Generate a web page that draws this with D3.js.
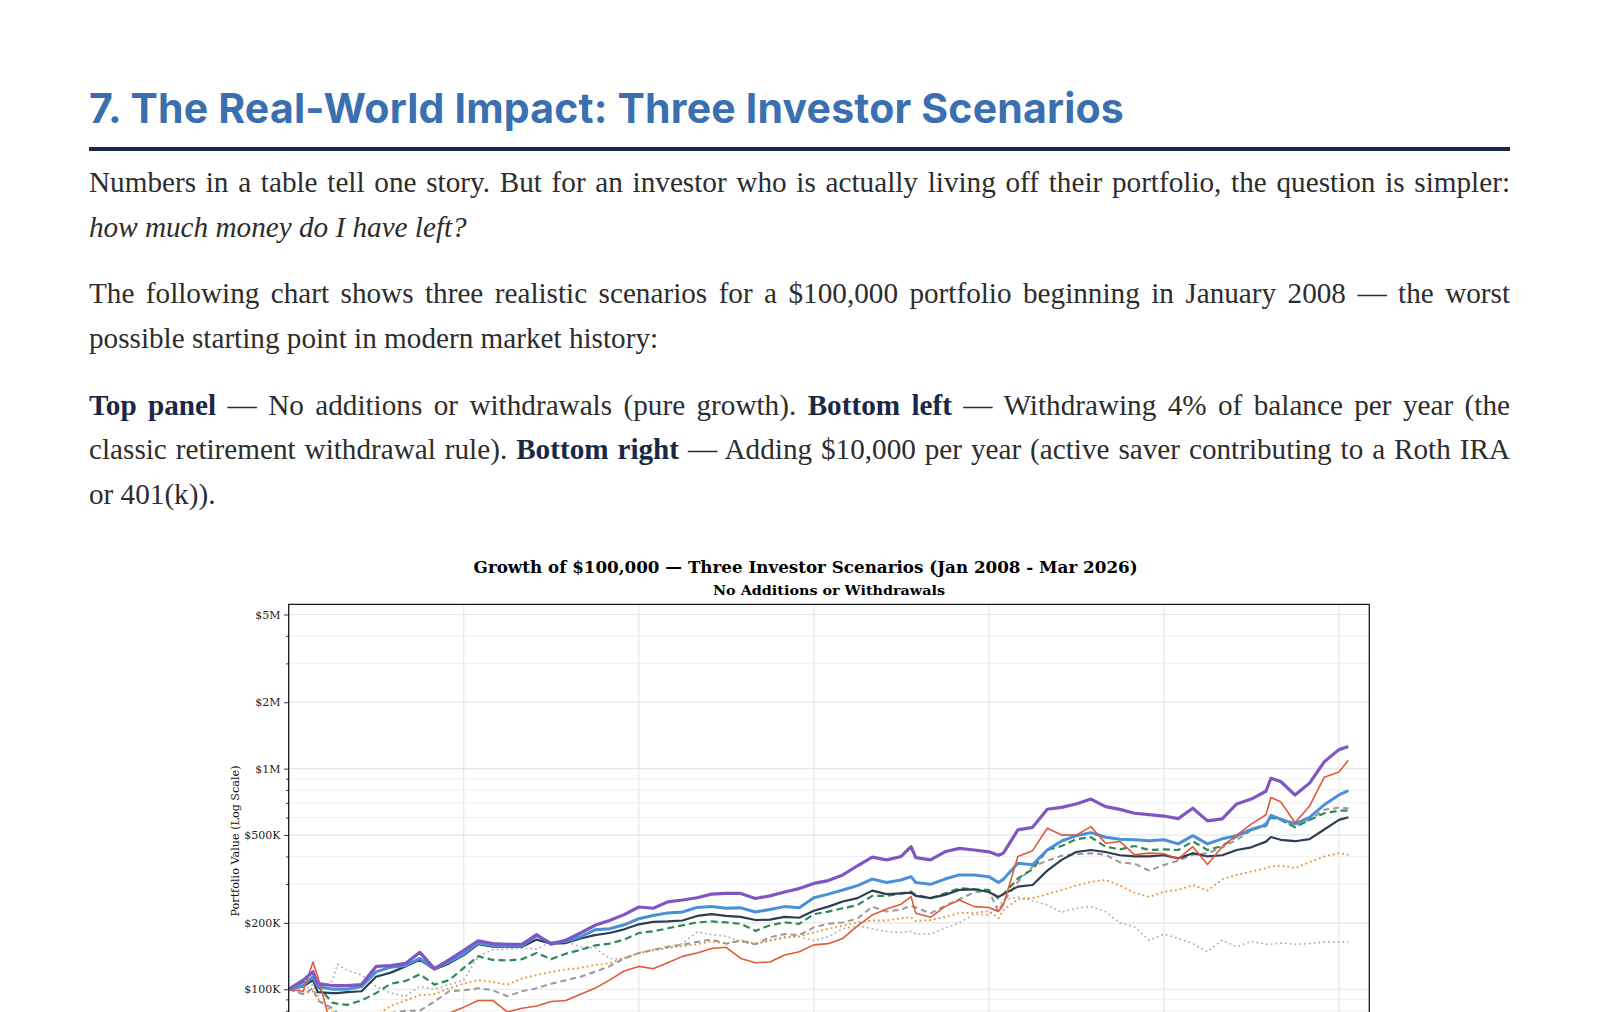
<!DOCTYPE html>
<html>
<head>
<meta charset="utf-8">
<script src="https://cdn.jsdelivr.net/npm/d3@7"></script>
<style>
  html, body { margin: 0; padding: 0; background: #fff; overflow: hidden; }
  body { width: 1598px; height: 1012px; position: relative; }
  #chart { position: absolute; left: 0; top: 0; }
  #heading { position: absolute; left: 89px; top: 0; font-family: Inter, sans-serif; font-weight: 700;
             font-size: 41px; line-height: 1; color: #3a6fb0; white-space: nowrap; }
  #rule { position: absolute; left: 89px; top: 147px; width: 1421px; height: 4px; background: #1b2845; }
  .line { position: absolute; left: 89px; top: 0; width: 1421px; white-space: nowrap;
          font-family: "Liberation Serif", "Times New Roman", serif; font-size: 29.2px;
          line-height: 44.8px; color: #2d2d2d; }
  .line b { color: #1b2845; }
  .bm { display: inline-block; width: 0; height: 0; vertical-align: baseline; }
</style>
</head>
<body>
<svg id="chart" width="1598" height="1012"></svg>

<div id="heading"><span class="txt">7. The Real-World Impact: Three Investor Scenarios</span><span class="bm"></span></div>
<div id="rule"></div>

<div class="line" data-j="1"><span class="txt">Numbers in a table tell one story. But for an investor who is actually living off their portfolio, the question is simpler:</span><span class="bm"></span></div>
<div class="line"><span class="txt"><em>how much money do I have left?</em></span><span class="bm"></span></div>
<div class="line" data-j="1"><span class="txt">The following chart shows three realistic scenarios for a $100,000 portfolio beginning in January 2008 — the worst</span><span class="bm"></span></div>
<div class="line"><span class="txt">possible starting point in modern market history:</span><span class="bm"></span></div>
<div class="line" data-j="1"><span class="txt"><b>Top panel</b> — No additions or withdrawals (pure growth). <b>Bottom left</b> — Withdrawing 4% of balance per year (the</span><span class="bm"></span></div>
<div class="line" data-j="1"><span class="txt">classic retirement withdrawal rule). <b>Bottom right</b> — Adding $10,000 per year (active saver contributing to a Roth IRA</span><span class="bm"></span></div>
<div class="line"><span class="txt">or 401(k)).</span><span class="bm"></span></div>

<script>
// month of each reading
const dates = [
  "2008-01","2008-04","2008-06","2008-07","2008-10","2008-11",
  "2009-01","2009-04","2009-07","2009-10",
  "2010-01","2010-04","2010-07","2010-10",
  "2011-01","2011-04","2011-07","2011-10",
  "2012-01","2012-04","2012-07","2012-10",
  "2013-01","2013-04","2013-07","2013-10",
  "2014-01","2014-04","2014-07","2014-10",
  "2015-01","2015-04","2015-07","2015-10",
  "2016-01","2016-04","2016-07","2016-10",
  "2017-01","2017-04","2017-07","2017-10",
  "2018-01","2018-04","2018-07","2018-09","2018-10",
  "2019-01","2019-04","2019-07","2019-10",
  "2020-01","2020-03","2020-04","2020-07","2020-10",
  "2021-01","2021-04","2021-07","2021-10",
  "2022-01","2022-04","2022-07","2022-10",
  "2023-01","2023-04","2023-07","2023-10",
  "2024-01","2024-04","2024-07","2024-10","2024-11",
  "2025-01","2025-04","2025-07","2025-10",
  "2026-01","2026-03"
];

// portfolio values in $K, one per date
const purple = [
  100,110,120,106,104,104,
  104,105,127,128,
  131,147,124,136,
  150,166,161,160,
  160,177,160,167,
  180,195,205,218,
  236,233,249,254,
  260,270,272,272,
  258,265,276,286,
  302,311,330,363,
  397,386,400,443,395,
  386,420,435,428,
  420,405,414,528,542,
  655,668,692,728,
  673,654,628,619,
  610,594,662,580,
  592,692,728,790,905,
  875,760,860,1075,
  1220,1260
];
const blue = [
  100,104,114,103,100,100,
  100,103,120,126,
  128,138,124,133,
  145,162,158,158,
  158,175,162,165,
  173,186,188,196,
  209,216,222,224,
  235,237,233,234,
  224,230,237,234,
  260,270,282,295,
  316,305,313,324,305,
  299,316,330,330,
  324,305,315,373,367,
  428,470,497,513,
  489,479,476,471,
  476,456,497,456,
  481,497,530,556,614,
  590,562,601,686,
  760,796
];
const navy = [
  100,103,110,97,96,96,
  97,98,114,119,
  127,136,123,131,
  143,160,156,156,
  156,168,161,162,
  170,176,180,187,
  197,202,203,205,
  215,219,215,213,
  206,207,213,211,
  227,237,250,259,
  280,270,272,274,265,
  259,268,282,284,
  276,262,270,292,297,
  345,386,419,428,
  419,405,400,400,
  405,392,414,400,
  405,428,440,467,490,
  476,469,479,530,
  586,602
];
const green = [
  100,108,110,103,87,86,
  85,89,96,106,
  109,117,105,110,
  125,141,136,135,
  137,146,137,145,
  151,158,161,168,
  180,183,189,195,
  201,203,201,198,
  184,195,201,198,
  219,225,233,241,
  265,265,272,277,268,
  259,272,287,284,
  282,258,270,318,350,
  428,446,479,489,
  443,431,446,428,
  431,428,468,428,
  446,493,528,550,600,
  586,542,586,628,
  645,645
];
const grayDashed = [
  100,95,101,89,82,78,
  72,71,74,78,
  80,80,88,98,
  99,101,99,93,
  98,101,106,110,
  114,120,127,138,
  146,151,156,159,
  164,168,161,166,
  160,172,178,176,
  191,198,201,209,
  237,225,230,239,235,
  221,239,256,275,
  280,225,249,307,360,
  383,403,410,414,
  407,376,371,345,
  366,383,407,414,
  440,476,524,566,607,
  586,546,586,651,
  666,661
];
const red = [
  100,98,133,114,65,58,
  55,50,55,58,
  62,66,62,78,
  83,89,89,79,
  82,84,88,89,
  95,101,110,121,
  127,124,132,141,
  146,153,155,138,
  132,133,143,148,
  159,161,170,194,
  217,231,243,263,221,
  212,237,254,237,
  235,225,241,400,425,
  537,500,500,546,
  459,468,407,414,
  411,390,443,368,
  443,500,561,618,740,
  708,569,677,915,
  965,1093
];
const orange = [
  100,96,98,91,79,76,
  72,71,76,84,
  89,94,95,101,
  106,110,108,105,
  112,116,120,123,
  125,129,131,139,
  146,150,154,157,
  160,165,161,167,
  161,166,171,174,
  181,188,194,201,
  205,205,210,212,204,
  206,213,222,222,
  226,210,229,256,259,
  270,282,295,307,
  313,295,274,262,
  277,282,297,280,
  315,330,342,354,360,
  364,354,377,400,
  414,407
];
const lightGray = [
  100,99,105,93,110,130,
  122,116,103,96,
  93,103,100,105,
  110,141,151,152,
  154,152,164,164,
  156,154,138,137,
  146,151,154,161,
  182,177,174,164,
  160,167,173,173,
  166,173,188,194,
  188,183,181,183,178,
  178,189,200,219,
  217,240,254,262,252,
  241,223,233,237,
  225,200,192,167,
  178,170,161,148,
  167,156,165,160,160,
  162,160,161,164,
  164,164
];

const majorTicks = [1e5, 2e5, 5e5, 1e6, 2e6, 5e6];
const majorLabels = ["$100K", "$200K", "$500K", "$1M", "$2M", "$5M"];
const minorTicks = [6e4, 7e4, 8e4, 9e4, 3e5, 4e5, 6e5, 7e5, 8e5, 9e5, 3e6, 4e6];
const gridYears = [2008, 2011, 2014, 2017, 2020, 2023, 2026];

const parse = d3.timeParse("%Y-%m");
const svg = d3.select("#chart");

const plotL = 288.7, plotR = 1369.3, plotT = 604.3, plotB = 1055.7;

const x = d3.scaleTime()
  .domain([new Date(2008, 0, 1), new Date(2026, 6, 10)])
  .range([plotL, plotR]);
const y = d3.scaleLog()
  .domain([50000, 5.56e6])
  .range([plotB, plotT]);

svg.append("defs").append("clipPath").attr("id", "plotClip")
  .append("rect").attr("x", plotL).attr("y", plotT)
  .attr("width", plotR - plotL).attr("height", plotB - plotT);

// titles
svg.append("text")
  .attr("x", 805.6).attr("y", 573.3)
  .attr("text-anchor", "middle")
  .attr("textLength", 664).attr("lengthAdjust", "spacingAndGlyphs")
  .style("font", "bold 17.5px 'DejaVu Serif', serif")
  .attr("fill", "#000")
  .text("Growth of $100,000 — Three Investor Scenarios (Jan 2008 - Mar 2026)");

svg.append("text")
  .attr("x", 829).attr("y", 595)
  .attr("text-anchor", "middle")
  .attr("textLength", 232).attr("lengthAdjust", "spacingAndGlyphs")
  .style("font", "bold 13.5px 'DejaVu Serif', serif")
  .attr("fill", "#000")
  .text("No Additions or Withdrawals");

// grid
const grid = svg.append("g");
grid.selectAll("line.minor").data(minorTicks).join("line")
  .attr("class", "minor")
  .attr("x1", plotL).attr("x2", plotR)
  .attr("y1", (d) => y(d)).attr("y2", (d) => y(d))
  .attr("stroke", "#f0f0f0").attr("stroke-width", 1);
grid.selectAll("line.major").data(majorTicks).join("line")
  .attr("class", "major")
  .attr("x1", plotL).attr("x2", plotR)
  .attr("y1", (d) => y(d)).attr("y2", (d) => y(d))
  .attr("stroke", "#e6e6e6").attr("stroke-width", 1.1);
grid.selectAll("line.vert").data(gridYears).join("line")
  .attr("class", "vert")
  .attr("x1", (d) => x(new Date(d, 0, 1))).attr("x2", (d) => x(new Date(d, 0, 1)))
  .attr("y1", plotT).attr("y2", plotB)
  .attr("stroke", "#e6e6e6").attr("stroke-width", 1.1);

// series
const series = [
  { values: lightGray, color: "#adadad", width: 1.6, dash: "1.8,3" },
  { values: orange, color: "#e8912d", width: 1.8, dash: "1.8,3" },
  { values: grayDashed, color: "#999999", width: 2, dash: "6,4" },
  { values: green, color: "#2e8b57", width: 2.2, dash: "7,4" },
  { values: navy, color: "#2c3e50", width: 2.2, dash: null },
  { values: blue, color: "#4a90d9", width: 3, dash: null },
  { values: red, color: "#e05a3a", width: 1.6, dash: null },
  { values: purple, color: "#7e57c2", width: 3.2, dash: null },
];

const line = d3.line()
  .x((d) => x(d.date))
  .y((d) => y(d.value * 1000));

const lines = svg.append("g").attr("clip-path", "url(#plotClip)");
series.forEach((s) => {
  const pts = dates.map((dt, i) => ({ date: parse(dt), value: s.values[i] }));
  lines.append("path")
    .datum(pts)
    .attr("fill", "none")
    .attr("stroke", s.color)
    .attr("stroke-width", s.width)
    .attr("stroke-linejoin", "round")
    .attr("stroke-dasharray", s.dash)
    .attr("d", line);
});

// y axis: labelled major ticks, bare minor ticks
const yAxis = svg.append("g")
  .attr("transform", `translate(${plotL},0)`)
  .call(d3.axisLeft(y).tickValues(majorTicks)
    .tickFormat((d, i) => majorLabels[i]).tickSize(4.7).tickPadding(3.5));
yAxis.select(".domain").remove();
yAxis.selectAll("line").attr("stroke", "#333");
yAxis.selectAll("text")
  .style("font", "11px 'DejaVu Serif', serif").attr("fill", "#222");

const yMinor = svg.append("g")
  .attr("transform", `translate(${plotL},0)`)
  .call(d3.axisLeft(y).tickValues(minorTicks).tickFormat("").tickSize(2.6));
yMinor.select(".domain").remove();
yMinor.selectAll("line").attr("stroke", "#333");

svg.append("text")
  .attr("transform", "translate(238.5,841) rotate(-90)")
  .attr("text-anchor", "middle")
  .style("font", "11.2px 'DejaVu Serif', serif")
  .attr("fill", "#111")
  .text("Portfolio Value (Log Scale)");

// spines
svg.append("path")
  .attr("d", `M${plotL},${plotB}V${plotT}H${plotR}V${plotB}`)
  .attr("fill", "none").attr("stroke", "#1a1a1a").attr("stroke-width", 1.3);

// page text placement
function placeBaseline(el, yBase) {
  el.style.top = "0px";
  const off = el.querySelector(".bm").getBoundingClientRect().top;
  el.style.top = (yBase - off) + "px";
}

function justify(el, width) {
  const span = el.querySelector(".txt");
  el.style.wordSpacing = "0px";
  const w = span.getBoundingClientRect().width;
  const spaces = (span.textContent.match(/ /g) || []).length;
  if (spaces) el.style.wordSpacing = ((width - w) / spaces) + "px";
}

const heading = document.getElementById("heading");
const hw = heading.querySelector(".txt").getBoundingClientRect().width;
const hn = heading.querySelector(".txt").textContent.length;
heading.style.letterSpacing = ((1035 - hw) / hn) + "px";
placeBaseline(heading, 122.7);

const baselines = [191.7, 236.6, 303.3, 348.2, 414.8, 459.4, 504.1];
document.querySelectorAll(".line").forEach((el, i) => {
  if (el.dataset.j) justify(el, 1421);
  placeBaseline(el, baselines[i]);
});
</script>
</body>
</html>
